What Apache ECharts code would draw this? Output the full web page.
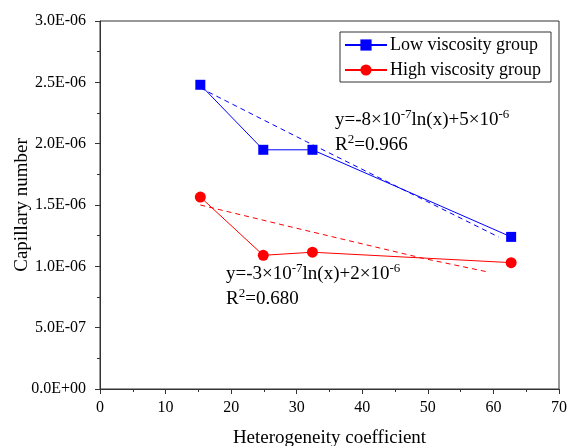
<!DOCTYPE html>
<html>
<head>
<meta charset="utf-8">
<style>
  html, body { margin: 0; padding: 0; background: #fff; }
  #chart { width: 569px; height: 446px; }
</style>
<script src="https://cdn.jsdelivr.net/npm/echarts@6/dist/echarts.min.js"></script>
</head>
<body>
<div id="chart"></div>
<script>
// Measured capillary numbers against heterogeneity coefficient
const lowX = [15.3, 24.9, 32.4, 62.7];
const lowY = [2.48e-6, 1.95e-6, 1.95e-6, 1.24e-6];
const highX = [15.3, 24.9, 32.4, 62.7];
const highY = [1.565e-6, 1.09e-6, 1.115e-6, 1.03e-6];

// Fitted trend lines (logarithmic fits), sampled along the curve
const lowFitX = [15.3, 31.5, 60.8];
const lowFitY = [2.454e-6, 2.016e-6, 1.239e-6];
const highFitX = [15.3, 29.0, 49.3, 59.0];
const highFitY = [1.50e-6, 1.323e-6, 1.065e-6, 0.956e-6];

const seriesNames = ['Low viscosity group', 'High viscosity group'];
const yTickLabels = ['0.0E+00', '5.0E-07', '1.0E-06', '1.5E-06', '2.0E-06', '2.5E-06', '3.0E-06'];
const xTickLabels = ['0', '10', '20', '30', '40', '50', '60', '70'];

const FONT = '"Liberation Serif", "Times New Roman", serif';
const AXIS_COLOR = '#333';
const Y_STEP = 0.5e-6;

function pairs(xs, ys) {
  return xs.map((x, i) => [x, ys[i]]);
}

const chart = echarts.init(document.getElementById('chart'), null, { renderer: 'canvas' });

const supStyle = { fontFamily: FONT, fontSize: 13, lineHeight: 14, verticalAlign: 'top', color: '#000' };
const mainStyle = { fontFamily: FONT, fontSize: 19, lineHeight: 25, color: '#000' };

function eqText(slopeExp, slopeCoef, interceptCoef, interceptExp, r2) {
  return '{m|y=-' + slopeCoef + '×10}{s|' + slopeExp + '}{m|ln(x)+' + interceptCoef + '×10}{s|' + interceptExp + '}\n' +
         '{m|R}{s|2}{m|=' + r2 + '}';
}

chart.setOption({
  animation: false,
  backgroundColor: '#fff',
  grid: {
    left: 100, right: 10, top: 21, bottom: 57,
    outerBoundsMode: 'none',
    containLabel: false,
    show: true, borderColor: AXIS_COLOR, borderWidth: 1, backgroundColor: 'transparent'
  },
  legend: {
    data: seriesNames,
    left: 340, top: 32,
    orient: 'vertical',
    padding: [4, 10, 3, 4],
    itemGap: 7,
    itemWidth: 42,
    itemHeight: 14,
    borderColor: AXIS_COLOR,
    borderWidth: 1,
    borderRadius: 0,
    textStyle: { fontFamily: FONT, fontSize: 18, color: '#000', lineHeight: 18, padding: [0, 0, 0, -2] }
  },
  xAxis: {
    type: 'value',
    min: 0, max: 70, interval: 10,
    name: 'Heterogeneity coefficient',
    nameLocation: 'middle',
    nameGap: 40,
    nameMoveOverlap: false,
    nameTextStyle: { fontFamily: FONT, fontSize: 19, color: '#000' },
    axisLine: { show: true, lineStyle: { color: AXIS_COLOR, width: 1 } },
    axisTick: { show: true, length: 5, lineStyle: { color: AXIS_COLOR } },
    minorTick: { show: true, splitNumber: 2, length: 3, lineStyle: { color: AXIS_COLOR } },
    splitLine: { show: false },
    axisLabel: {
      fontFamily: FONT, fontSize: 16, color: '#000', margin: 11,
      formatter: v => xTickLabels[Math.round(v / 10)]
    }
  },
  yAxis: {
    type: 'value',
    min: 0, max: 3e-6, interval: Y_STEP,
    name: 'Capillary number',
    nameLocation: 'middle',
    nameGap: 68,
    nameMoveOverlap: false,
    nameTextStyle: { fontFamily: FONT, fontSize: 19, color: '#000' },
    axisLine: { show: true, lineStyle: { color: AXIS_COLOR, width: 1 } },
    axisTick: { show: true, length: 5, lineStyle: { color: AXIS_COLOR } },
    minorTick: { show: true, splitNumber: 2, length: 3, lineStyle: { color: AXIS_COLOR } },
    splitLine: { show: false },
    axisLabel: {
      fontFamily: FONT, fontSize: 16, color: '#000', margin: 14,
      formatter: v => yTickLabels[Math.round(v / Y_STEP)]
    }
  },
  series: [
    {
      name: seriesNames[0],
      type: 'line',
      data: pairs(lowX, lowY),
      symbol: 'rect', symbolSize: 10,
      itemStyle: { color: '#0000ff' },
      lineStyle: { color: '#0000ff', width: 1 },
      z: 5
    },
    {
      name: seriesNames[1],
      type: 'line',
      data: pairs(highX, highY),
      symbol: 'circle', symbolSize: 11,
      itemStyle: { color: '#ff0000' },
      lineStyle: { color: '#ff0000', width: 1 },
      z: 5
    },
    {
      name: 'low-fit',
      type: 'line',
      data: pairs(lowFitX, lowFitY),
      showSymbol: false, silent: true,
      lineStyle: { color: '#0000ff', width: 1, type: [5, 4] },
      z: 3
    },
    {
      name: 'high-fit',
      type: 'line',
      data: pairs(highFitX, highFitY),
      showSymbol: false, silent: true,
      lineStyle: { color: '#ff0000', width: 1, type: [5, 4] },
      z: 3
    }
  ],
  graphic: [
    {
      type: 'text', left: 335, top: 108, z: 10,
      style: {
        text: eqText('-7', '8', '5', '-6', '0.966'),
        rich: { m: mainStyle, s: supStyle },
        fill: '#000'
      }
    },
    {
      type: 'text', left: 226, top: 262, z: 10,
      style: {
        text: eqText('-7', '3', '2', '-6', '0.680'),
        rich: { m: mainStyle, s: supStyle },
        fill: '#000'
      }
    }
  ]
});
</script>
</body>
</html>
